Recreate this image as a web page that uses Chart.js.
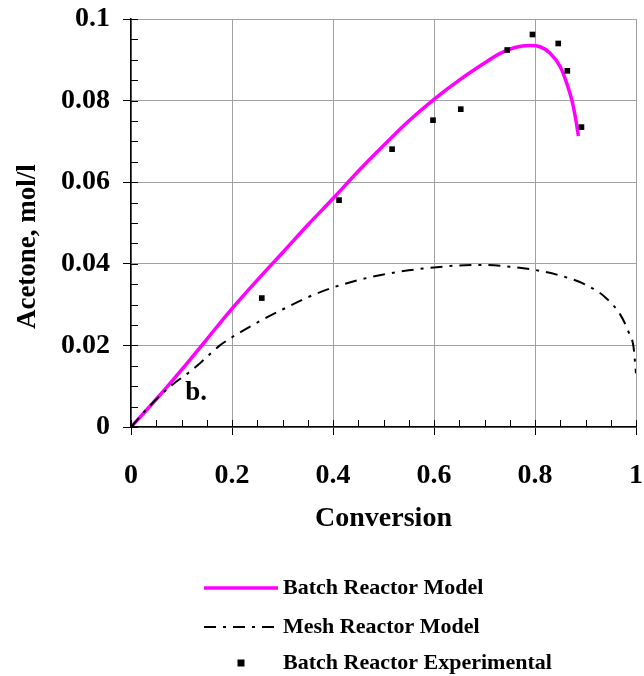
<!DOCTYPE html>
<html>
<head>
<meta charset="utf-8">
<script src="https://cdn.jsdelivr.net/npm/chart.js@4.4.1/dist/chart.umd.min.js"></script>
<style>
  html, body { margin: 0; padding: 0; background: #fff; }
  #wrap { width: 644px; height: 676px; }
</style>
</head>
<body>
<div id="wrap"><canvas id="acetoneChart" width="644" height="676"></canvas></div>
<script>
// Modelo do reator batelada (linha magenta)
const batchX = [0, 0.05, 0.10, 0.15, 0.20, 0.25, 0.30, 0.35, 0.40, 0.45, 0.50, 0.55, 0.60, 0.65, 0.70, 0.73, 0.76, 0.79, 0.81, 0.83, 0.85, 0.863, 0.873, 0.881, 0.886];
const batchY = [0, 0.0068, 0.0140, 0.0215, 0.0290, 0.0360, 0.0427, 0.0495, 0.0560, 0.0627, 0.0690, 0.0750, 0.0803, 0.0850, 0.0892, 0.0915, 0.0930, 0.0935, 0.0932, 0.0916, 0.0883, 0.0842, 0.0801, 0.0752, 0.0713];

// Modelo do reator de malha (traço-ponto)
const meshX = [0, 0.03, 0.06, 0.08, 0.117, 0.14, 0.176, 0.20, 0.25, 0.30, 0.35, 0.40, 0.45, 0.50, 0.55, 0.60, 0.65, 0.70, 0.75, 0.80, 0.85, 0.90, 0.94, 0.97, 0.985, 0.995, 1.0];
const meshY = [0, 0.0042, 0.0080, 0.0102, 0.0136, 0.0160, 0.0200, 0.0220, 0.0256, 0.0288, 0.0318, 0.0342, 0.0360, 0.0374, 0.0384, 0.0391, 0.0396, 0.0397, 0.0393, 0.0385, 0.0371, 0.0349, 0.0317, 0.0273, 0.0234, 0.0197, 0.0132];

// Pontos experimentais
const expX = [0, 0.259, 0.412, 0.517, 0.598, 0.653, 0.745, 0.795, 0.846, 0.864, 0.892];
const expY = [0, 0.0316, 0.0556, 0.0681, 0.0752, 0.0779, 0.0924, 0.0962, 0.0940, 0.0873, 0.0735];

const xTicksStep = 0.2;
const yTicksStep = 0.02;
const annotationText = 'b.';
const annotationAt = [0.129, 0.0083];

const FONT = "'Liberation Serif', 'Times New Roman', serif";

const toPoints = (xs, ys) => xs.map((x, i) => ({ x: x, y: ys[i] }));

// Força o tamanho da área do gráfico igual ao original
function fixBox(s, size) {
  if (s.isHorizontal()) s.height = size; else s.width = size;
  s.paddingTop = 0;
  s.paddingBottom = 0;
  s.paddingLeft = 0;
  s.paddingRight = 0;
}

// Marcas menores (para dentro) nos eixos
const minorTicks = {
  id: 'minorTicks',
  beforeDatasetsDraw(chart) {
    const { ctx, chartArea, scales } = chart;
    ctx.save();
    ctx.strokeStyle = '#000';
    ctx.lineWidth = 1;
    ctx.beginPath();
    for (let v = 0; v <= 1.0001; v += 0.05) {
      const px = Math.round(scales.x.getPixelForValue(v)) + 0.5;
      ctx.moveTo(px, chartArea.bottom);
      ctx.lineTo(px, chartArea.bottom - 7);
    }
    for (let v = 0; v <= 0.10001; v += 0.005) {
      const py = Math.round(scales.y.getPixelForValue(v)) + 0.5;
      ctx.moveTo(chartArea.left, py);
      ctx.lineTo(chartArea.left + 7, py);
    }
    ctx.stroke();
    ctx.restore();
  }
};

// Texto "b." e legenda em coluna abaixo do gráfico
const extras = {
  id: 'extras',
  afterDraw(chart) {
    const { ctx, scales } = chart;
    ctx.save();
    ctx.fillStyle = '#000';
    ctx.font = `bold 27px ${FONT}`;
    ctx.textAlign = 'center';
    ctx.textBaseline = 'middle';
    ctx.fillText(annotationText, scales.x.getPixelForValue(annotationAt[0]), scales.y.getPixelForValue(annotationAt[1]));

    const rows = [588, 627, 663];
    const sampleLeft = 204, sampleRight = 278, textLeft = 283;
    ctx.font = `bold 22px ${FONT}`;
    ctx.textAlign = 'left';
    chart.data.datasets.forEach((ds, i) => {
      const y = rows[i];
      if (ds.showLine) {
        ctx.save();
        ctx.strokeStyle = ds.borderColor;
        ctx.lineWidth = ds.borderWidth;
        ctx.setLineDash(ds.borderDash || []);
        ctx.beginPath();
        ctx.moveTo(sampleLeft, y);
        ctx.lineTo(sampleRight, y);
        ctx.stroke();
        ctx.restore();
      } else {
        const cx = (sampleLeft + sampleRight) / 2;
        ctx.fillStyle = ds.backgroundColor;
        ctx.fillRect(cx - 3.5, y - 3.5, 7, 7);
      }
      ctx.fillStyle = '#000';
      ctx.fillText(ds.label, textLeft, y);
    });
    ctx.restore();
  }
};

function renderChart() {
  const ctx = document.getElementById('acetoneChart').getContext('2d');

  new Chart(ctx, {
    type: 'scatter',
    data: {
      datasets: [
        {
          label: 'Batch Reactor Model',
          data: toPoints(batchX, batchY),
          showLine: true,
          borderColor: '#ff00ff',
          borderWidth: 3.5,
          pointRadius: 0,
          cubicInterpolationMode: 'monotone',
          order: 2
        },
        {
          label: 'Mesh Reactor Model',
          data: toPoints(meshX, meshY),
          showLine: true,
          borderColor: '#000',
          borderWidth: 2,
          borderDash: [12, 7, 3, 7],
          pointRadius: 0,
          cubicInterpolationMode: 'monotone',
          order: 1
        },
        {
          label: 'Batch Reactor Experimental',
          data: toPoints(expX, expY),
          showLine: false,
          pointStyle: 'rect',
          pointRadius: 4,
          backgroundColor: '#000',
          borderColor: '#000',
          borderWidth: 0,
          order: 0
        }
      ]
    },
    options: {
      responsive: false,
      animation: false,
      layout: { padding: { top: 19, right: 8, left: 0, bottom: 130 } },
      plugins: {
        legend: { display: false },
        tooltip: { enabled: false }
      },
      scales: {
        x: {
          type: 'linear',
          min: 0,
          max: 1,
          afterFit: s => fixBox(s, 119),
          ticks: {
            stepSize: xTicksStep,
            color: '#000',
            padding: 24,
            maxRotation: 0,
            font: { family: FONT, size: 28, weight: 'bold' },
            callback: v => String(+v.toFixed(1))
          },
          grid: { color: '#a0a0a0', lineWidth: 1, tickColor: '#000', tickLength: 8 },
          border: { color: '#000', width: 1.5 },
          title: {
            display: true,
            text: 'Conversion',
            color: '#000',
            padding: { top: 0, bottom: 10 },
            font: { family: FONT, size: 28, weight: 'bold' }
          }
        },
        y: {
          type: 'linear',
          min: 0,
          max: 0.1,
          afterFit: s => fixBox(s, 131),
          ticks: {
            stepSize: yTicksStep,
            color: '#000',
            padding: 13,
            font: { family: FONT, size: 28, weight: 'bold' },
            callback: v => String(+v.toFixed(2))
          },
          grid: { color: '#a0a0a0', lineWidth: 1, tickColor: '#000', tickLength: 8 },
          border: { color: '#000', width: 1.5 },
          title: {
            display: true,
            // espaços finais deslocam o título para baixo, como no original
            text: 'Acetone, mol/l       ',
            color: '#000',
            padding: { top: 12, bottom: 0 },
            font: { family: FONT, size: 27, weight: 'bold' }
          }
        }
      }
    },
    plugins: [minorTicks, extras]
  });
}

document.addEventListener('DOMContentLoaded', renderChart);
</script>
</body>
</html>
